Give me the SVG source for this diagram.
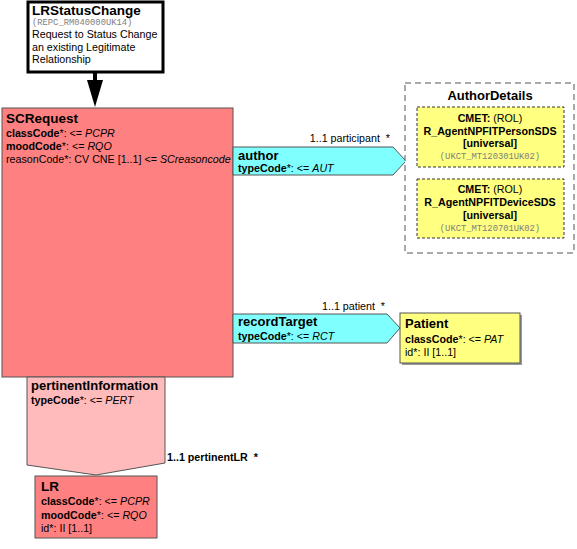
<svg xmlns="http://www.w3.org/2000/svg" width="577" height="549" viewBox="0 0 577 549">
<defs>
<style>
text{font-family:"Liberation Sans",Arial,sans-serif;font-size:10.7px;fill:#000}
.t{font-weight:bold;font-size:13.5px}
.h{font-weight:bold;font-size:13px}
.b{font-weight:bold}
.i{font-style:italic}
.m{font-family:"Liberation Mono","DejaVu Sans Mono",monospace;font-size:8.8px;fill:#808080}
.c{text-anchor:middle}
.e{text-anchor:end}
.act{fill:#FF8080;stroke:#555;stroke-width:1}
.rel{fill:#80FFFF;stroke:#555;stroke-width:1}
.ent{fill:#FFFF80;stroke:#555;stroke-width:1}
.cmet{fill:#FFFF80;stroke:#333;stroke-width:1;stroke-dasharray:3,2}
.sh{fill:#999}
</style>
</defs>
<g id="connectors">
<path d="M95,72 L95,80" stroke="#000" stroke-width="4" fill="none"/>
<path d="M87,80 L103,80 L95,107 Z" fill="#000"/>
<text x="390" y="142" class="e">1..1 participant &#160;*</text>
<text x="385" y="310" class="e">1..1 patient &#160;*</text>
<text x="167" y="461" class="b">1..1 pertinentLR &#160;*</text>
</g>
<g id="LRStatusChange">
<rect x="28" y="2" width="135" height="70" fill="#fff" stroke="#000" stroke-width="3"/>
<text x="32" y="15" class="t">LRStatusChange</text>
<text x="32" y="25" class="m">(REPC_RM040000UK14)</text>
<text x="32" y="38">Request to Status Change</text>
<text x="32" y="51">an existing Legitimate</text>
<text x="32" y="63">Relationship</text>
</g>
<g id="SCRequest">
<rect x="2" y="108" width="231" height="269" class="act"/>
<text x="6" y="123" class="t">SCRequest</text>
<text x="6" y="137"><tspan class="b">classCode</tspan>*: &lt;= <tspan class="i">PCPR</tspan></text>
<text x="6" y="150"><tspan class="b">moodCode</tspan>*: &lt;= <tspan class="i">RQO</tspan></text>
<text x="6" y="163">reasonCode*: CV CNE [1..1] &lt;= <tspan class="i">SCreasoncode</tspan></text>
</g>
<g id="author">
<path d="M233,147 L393,147 L406,161 L393,175 L233,175 Z" class="rel"/>
<text x="238" y="160" class="h">author</text>
<text x="238" y="172"><tspan class="b">typeCode</tspan>*: &lt;= <tspan class="i">AUT</tspan></text>
</g>
<g id="AuthorDetails">
<rect x="405" y="83" width="169" height="170" fill="#fff" stroke="#555" stroke-width="1" stroke-dasharray="6,4"/>
<text x="490" y="100" class="h c">AuthorDetails</text>
</g>
<g id="R_AgentNPFITPersonSDS">
<rect x="417" y="107" width="147" height="60" class="cmet"/>
<text x="490" y="122" class="c"><tspan class="b">CMET:</tspan> (ROL)</text>
<text x="490" y="135" class="c b">R_AgentNPFITPersonSDS</text>
<text x="490" y="147" class="c b">[universal]</text>
<text x="490" y="159" class="c m">(UKCT_MT120301UK02)</text>
</g>
<g id="R_AgentNPFITDeviceSDS">
<rect x="417" y="179" width="147" height="59" class="cmet"/>
<text x="490" y="193" class="c"><tspan class="b">CMET:</tspan> (ROL)</text>
<text x="490" y="206" class="c b">R_AgentNPFITDeviceSDS</text>
<text x="490" y="219" class="c b">[universal]</text>
<text x="490" y="231" class="c m">(UKCT_MT120701UK02)</text>
</g>
<g id="recordTarget">
<path d="M233,314 L387,314 L400,328 L387,343 L233,343 Z" class="rel"/>
<text x="238" y="326" class="h">recordTarget</text>
<text x="238" y="340"><tspan class="b">typeCode</tspan>*: &lt;= <tspan class="i">RCT</tspan></text>
</g>
<g id="Patient">
<rect x="402" y="315" width="120" height="50" class="sh"/>
<rect x="400" y="313" width="120" height="50" class="ent"/>
<text x="405" y="328" class="h">Patient</text>
<text x="405" y="343"><tspan class="b">classCode</tspan>*: &lt;= <tspan class="i">PAT</tspan></text>
<text x="405" y="356">id*: II [1..1]</text>
</g>
<g id="pertinentInformation">
<path d="M27,377 L165,377 L165,463 L96,475 L27,465 Z" fill="#FFBBBB" stroke="#555" stroke-width="1"/>
<text x="31" y="390" class="h">pertinentInformation</text>
<text x="31" y="404"><tspan class="b">typeCode</tspan>*: &lt;= <tspan class="i">PERT</tspan></text>
</g>
<g id="LR">
<rect x="35" y="476" width="122" height="62" class="act"/>
<text x="41" y="491" class="t">LR</text>
<text x="41" y="505"><tspan class="b">classCode</tspan>*: &lt;= <tspan class="i">PCPR</tspan></text>
<text x="41" y="519"><tspan class="b">moodCode</tspan>*: &lt;= <tspan class="i">RQO</tspan></text>
<text x="41" y="532">id*: II [1..1]</text>
</g>
</svg>
